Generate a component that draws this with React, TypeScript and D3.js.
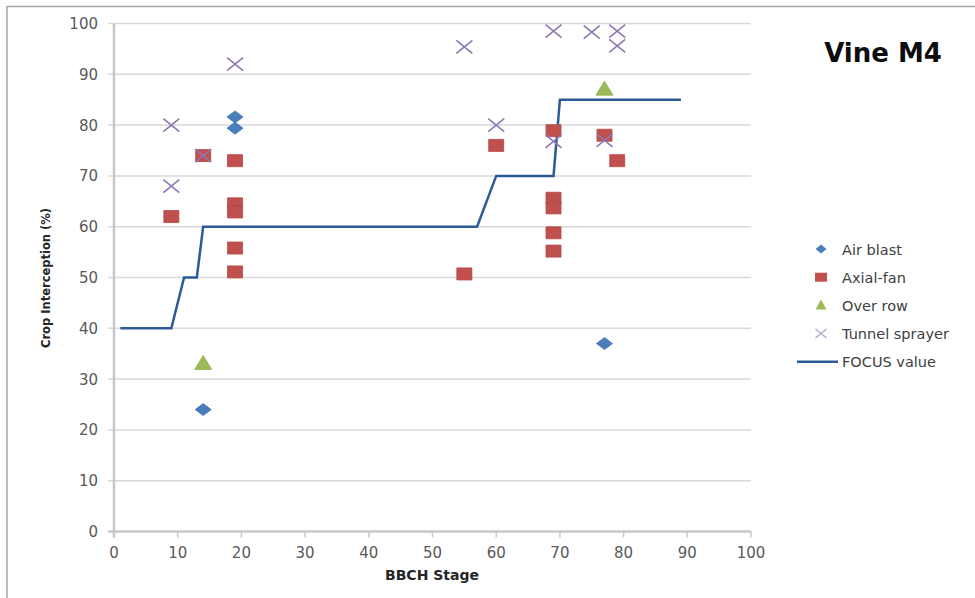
import { useEffect, useRef } from 'react';
import * as d3 from 'd3';

// BBCH stage (x) and crop interception % (y) per sprayer type
const airBlastX = [19, 19, 14, 77];
const airBlastY = [81.6, 79.4, 24, 37];
const axialFanX = [9, 14, 19, 19, 19, 19, 19, 55, 60, 69, 69, 69, 69, 69, 77, 79];
const axialFanY = [62, 74, 73, 64.5, 62.9, 55.8, 51.1, 50.7, 76, 78.9, 65.6, 63.7, 58.8, 55.2, 78, 73];
const overRowX = [14, 77];
const overRowY = [33, 87];
const tunnelX = [9, 9, 19, 14, 55, 60, 69, 75, 79, 79, 69, 77];
const tunnelY = [80, 68, 92, 74, 95.4, 80, 98.5, 98.3, 98.5, 95.6, 76.8, 77];
const focusX = [1, 9, 11, 13, 14, 57, 60, 69, 70, 89];
const focusY = [40, 40, 50, 50, 60, 60, 70, 70, 85, 85];

const xTicks = [0, 10, 20, 30, 40, 50, 60, 70, 80, 90, 100];
const yTicks = [0, 10, 20, 30, 40, 50, 60, 70, 80, 90, 100];

const seriesNames = ['Air blast', 'Axial-fan', 'Over row', 'Tunnel sprayer', 'FOCUS value'];

const BLUE = '#4a7ebb';
const RED = '#c0504d';
const GREEN = '#9bbb59';
const PURPLE = '#8f77b5';
const LINE = '#2c5a96';

const FONT = '"DejaVu Sans", sans-serif';

export default function App() {
  const svgRef = useRef(null);

  useEffect(() => {
    const width = 975;
    const height = 598;
    const svg = d3.select(svgRef.current);
    svg.selectAll('*').remove();
    svg.attr('width', width).attr('height', height);

    svg.append('rect').attr('width', width).attr('height', height).attr('fill', 'white');

    // outer frame (top + left edge of the cropped chart)
    svg.append('line').attr('x1', 7).attr('x2', width).attr('y1', 6.5).attr('y2', 6.5)
      .attr('stroke', '#a6a6a6').attr('stroke-width', 1.5);
    svg.append('line').attr('x1', 7).attr('x2', 7).attr('y1', 6).attr('y2', height)
      .attr('stroke', '#a6a6a6').attr('stroke-width', 1.5);

    const x = d3.scaleLinear().domain([0, 100]).range([114, 751]);
    const y = d3.scaleLinear().domain([0, 100]).range([531.5, 23.5]);

    // gridlines
    svg.append('g')
      .selectAll('line')
      .data(yTicks.filter(d => d > 0))
      .enter()
      .append('line')
      .attr('x1', x(0) - 6)
      .attr('x2', x(100))
      .attr('y1', d => y(d))
      .attr('y2', d => y(d))
      .attr('stroke', '#d9d9d9')
      .attr('stroke-width', 1.5);

    // axes
    const axisColor = '#c8c8c8';
    svg.append('line').attr('x1', x(0)).attr('x2', x(0)).attr('y1', y(100)).attr('y2', y(0) + 6)
      .attr('stroke', axisColor).attr('stroke-width', 2.5);
    svg.append('line').attr('x1', x(0) - 6).attr('x2', x(100)).attr('y1', y(0)).attr('y2', y(0))
      .attr('stroke', axisColor).attr('stroke-width', 2.5);

    svg.append('g').selectAll('line').data(xTicks).enter().append('line')
      .attr('x1', d => x(d)).attr('x2', d => x(d))
      .attr('y1', y(0)).attr('y2', y(0) + 6)
      .attr('stroke', axisColor).attr('stroke-width', 1.5);

    // tick labels
    svg.append('g').selectAll('text').data(xTicks).enter().append('text')
      .attr('x', d => x(d)).attr('y', y(0) + 26)
      .attr('text-anchor', 'middle')
      .style('font-family', FONT).style('font-size', '15px').style('fill', '#595959')
      .text(d => d);

    svg.append('g').selectAll('text').data(yTicks).enter().append('text')
      .attr('x', 98).attr('y', d => y(d) + 5.5)
      .attr('text-anchor', 'end')
      .style('font-family', FONT).style('font-size', '15px').style('fill', '#595959')
      .text(d => d);

    // axis titles
    svg.append('text')
      .attr('x', 432).attr('y', 580)
      .attr('text-anchor', 'middle')
      .style('font-family', FONT).style('font-size', '14px').style('font-weight', 'bold')
      .style('fill', '#262626')
      .text('BBCH Stage');

    svg.append('text')
      .attr('transform', 'translate(50,278) rotate(-90)')
      .attr('text-anchor', 'middle')
      .style('font-family', FONT).style('font-size', '11.5px').style('font-weight', 'bold')
      .style('fill', '#262626')
      .text('Crop Interception (%)');

    // chart title
    svg.append('text')
      .attr('x', 883).attr('y', 62)
      .attr('text-anchor', 'middle')
      .style('font-family', FONT).style('font-size', '26px').style('font-weight', 'bold')
      .style('fill', '#0d0d0d')
      .text('Vine M4');

    // marker path builders (w, h = full size)
    const diamond = (w, h) => `M0,${-h / 2}L${w / 2},0L0,${h / 2}L${-w / 2},0Z`;
    const square = (w, h) => `M${-w / 2},${-h / 2}h${w}v${h}h${-w}Z`;
    const triangle = (w, h) => `M0,${-h * 0.6}L${w / 2},${h * 0.4}L${-w / 2},${h * 0.4}Z`;
    const cross = (w, h) => `M${-w / 2},${-h / 2}L${w / 2},${h / 2}M${w / 2},${-h / 2}L${-w / 2},${h / 2}`;

    // FOCUS step line
    const line = d3.line().x(d => x(d[0])).y(d => y(d[1]));
    svg.append('path')
      .datum(d3.zip(focusX, focusY))
      .attr('d', line)
      .attr('fill', 'none')
      .attr('stroke', LINE)
      .attr('stroke-width', 2.5);

    const plot = (xs, ys, path, fill, stroke, sw) => {
      svg.append('g').selectAll('path')
        .data(d3.zip(xs, ys))
        .enter()
        .append('path')
        .attr('transform', d => `translate(${x(d[0])},${y(d[1])})`)
        .attr('d', path)
        .attr('fill', fill)
        .attr('stroke', stroke)
        .attr('stroke-width', sw);
    };

    plot(airBlastX, airBlastY, diamond(16, 12), BLUE, '#3f71ad', 0.8);
    plot(axialFanX, axialFanY, square(15, 12), RED, '#b54643', 0.8);
    plot(overRowX, overRowY, triangle(17, 14), GREEN, '#8fae4f', 0.8);
    plot(tunnelX, tunnelY, cross(16, 13), 'none', PURPLE, 1.6);

    // legend
    const legend = svg.append('g').attr('transform', 'translate(821,249)');
    const rowH = 28.2;
    const legendShapes = [
      { path: diamond(11, 9), fill: BLUE, stroke: 'none', sw: 0 },
      { path: square(12, 9), fill: RED, stroke: 'none', sw: 0 },
      { path: triangle(11, 10), fill: GREEN, stroke: 'none', sw: 0 },
      { path: cross(11, 9), fill: 'none', stroke: '#b3a2cf', sw: 1.3 },
    ];
    seriesNames.forEach((name, i) => {
      const row = legend.append('g').attr('transform', `translate(0,${i * rowH})`);
      if (i < 4) {
        const s = legendShapes[i];
        row.append('path').attr('d', s.path).attr('fill', s.fill)
          .attr('stroke', s.stroke).attr('stroke-width', s.sw);
      } else {
        row.append('line').attr('x1', -24).attr('x2', 17).attr('y1', 0).attr('y2', 0)
          .attr('stroke', LINE).attr('stroke-width', 2.5);
      }
      row.append('text')
        .attr('x', 21).attr('y', 5.5)
        .style('font-family', FONT).style('font-size', '14.5px').style('fill', '#404040')
        .text(name);
    });
  }, []);

  return (
    <div style={{ position: 'absolute', left: 0, top: 0 }}>
      <svg ref={svgRef} style={{ display: 'block' }}></svg>
    </div>
  );
}
